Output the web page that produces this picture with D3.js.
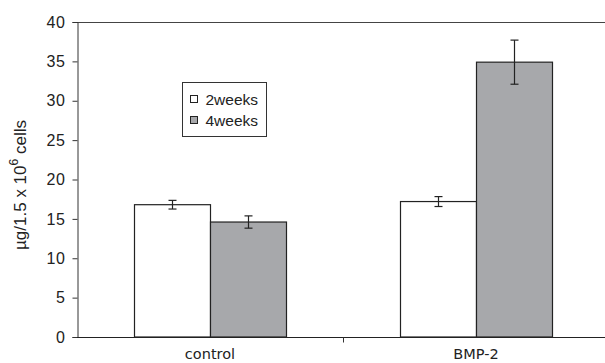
<!DOCTYPE html>
<html>
<head>
<meta charset="utf-8">
<script src="https://cdn.jsdelivr.net/npm/d3@7"></script>
<style>
  body { margin: 0; background: #fff; }
  text { fill: #222; }
</style>
</head>
<body>
<div id="chart"></div>
<script>
var categories = ["control", "BMP-2"];
var series = ["2weeks", "4weeks"];
var values2w = [16.8, 17.2];
var values4w = [14.6, 34.9];
var errors2w = [0.55, 0.63];
var errors4w = [0.78, 2.8];
var yTicks = [0, 5, 10, 15, 20, 25, 30, 35, 40];

var width = 605, height = 363;
var margin = {top: 22, right: -4, bottom: 26, left: 77};

var svg = d3.select("#chart").append("svg")
    .attr("width", width).attr("height", height);

var x = d3.scaleBand()
    .domain(categories)
    .range([margin.left, width - margin.right]);

var x1 = d3.scaleBand()
    .domain(series)
    .range([0, x.bandwidth()])
    .paddingInner(0)
    .paddingOuter(0.75);

var y = d3.scaleLinear()
    .domain([0, 40])
    .range([height - margin.bottom, margin.top]);

var colors = {"2weeks": "#ffffff", "4weeks": "#a7a8ab"};

var data = [];
categories.forEach(function(c, i) {
  data.push({cat: c, s: "2weeks", v: values2w[i], e: errors2w[i]});
  data.push({cat: c, s: "4weeks", v: values4w[i], e: errors4w[i]});
});

// top frame line
svg.append("line")
    .attr("x1", margin.left).attr("x2", width)
    .attr("y1", y(40) + 0.5).attr("y2", y(40) + 0.5)
    .attr("stroke", "#444").attr("stroke-width", 1);

// bars
svg.selectAll("rect.bar").data(data).enter().append("rect")
    .attr("class", "bar")
    .attr("x", function(d) { return Math.round(x(d.cat) + x1(d.s)) + 0.5; })
    .attr("width", x1.bandwidth())
    .attr("y", function(d) { return y(d.v); })
    .attr("height", function(d) { return y(0) - y(d.v); })
    .attr("fill", function(d) { return colors[d.s]; })
    .attr("stroke", "#222").attr("stroke-width", 1.2);

// error bars
var eb = svg.selectAll("g.err").data(data).enter().append("g").attr("class", "err")
    .attr("transform", function(d) {
      return "translate(" + (Math.round(x(d.cat) + x1(d.s) + x1.bandwidth() / 2) + 0.5) + ",0)";
    });
eb.append("line")
    .attr("y1", function(d) { return y(d.v + d.e); })
    .attr("y2", function(d) { return y(d.v - d.e); })
    .attr("stroke", "#222").attr("stroke-width", 1.2);
eb.append("line").attr("x1", -4).attr("x2", 4)
    .attr("y1", function(d) { return y(d.v + d.e); })
    .attr("y2", function(d) { return y(d.v + d.e); })
    .attr("stroke", "#222").attr("stroke-width", 1.2);
eb.append("line").attr("x1", -4).attr("x2", 4)
    .attr("y1", function(d) { return y(d.v - d.e); })
    .attr("y2", function(d) { return y(d.v - d.e); })
    .attr("stroke", "#222").attr("stroke-width", 1.2);

// y axis
var yAxis = svg.append("g")
    .attr("transform", "translate(" + (margin.left + 0.5) + ",0)")
    .call(d3.axisLeft(y).tickValues(yTicks).tickSize(5).tickPadding(7));
yAxis.select(".domain").attr("stroke", "#333");
yAxis.selectAll(".tick line").attr("stroke", "#333");
yAxis.selectAll(".tick text")
    .style("font-family", "Liberation Sans, Arial, sans-serif")
    .style("font-size", "16px")
    .style("letter-spacing", "0.6px")
    .attr("fill", "#222");

// x axis
var xAxis = svg.append("g")
    .attr("transform", "translate(0," + (y(0) + 0.5) + ")");
xAxis.append("line")
    .attr("x1", margin.left).attr("x2", width)
    .attr("stroke", "#222").attr("stroke-width", 1.2);
xAxis.append("line")
    .attr("x1", x(categories[1]) + 0.5).attr("x2", x(categories[1]) + 0.5)
    .attr("y1", 0).attr("y2", 5)
    .attr("stroke", "#333");
xAxis.selectAll("text.cat").data(categories).enter().append("text")
    .attr("class", "cat")
    .attr("x", function(d) { return x(d) + x.bandwidth() / 2; })
    .attr("y", 21)
    .attr("text-anchor", "middle")
    .style("font-family", "DejaVu Sans, Verdana, sans-serif")
    .style("font-size", "14.5px")
    .text(function(d) { return d; });

// y title
var title = svg.append("text")
    .attr("transform", "translate(26,185) rotate(-90)")
    .attr("text-anchor", "middle")
    .style("font-family", "Liberation Sans, Arial, sans-serif")
    .style("font-size", "17px");
title.append("tspan").text("\u00b5g/1.5 x 10");
title.append("tspan").attr("dy", -8).style("font-size", "12px").text("6");
title.append("tspan").attr("dy", 8).text(" cells");

// legend
var legend = svg.append("g").attr("transform", "translate(182.5,82.5)");
legend.append("rect").attr("width", 84).attr("height", 54)
    .attr("fill", "#fff").attr("stroke", "#333").attr("stroke-width", 1);
var li = legend.selectAll("g.item").data(series).enter().append("g")
    .attr("class", "item")
    .attr("transform", function(d, i) { return "translate(8," + (17 + i * 21) + ")"; });
li.append("rect").attr("x", 0).attr("y", -4).attr("width", 7).attr("height", 7)
    .attr("fill", function(d) { return colors[d]; })
    .attr("stroke", "#222").attr("stroke-width", 1);
li.append("text").attr("x", 15).attr("y", 5)
    .style("font-family", "Liberation Sans, Arial, sans-serif")
    .style("font-size", "15.5px")
    .text(function(d) { return d; });
</script>
</body>
</html>
